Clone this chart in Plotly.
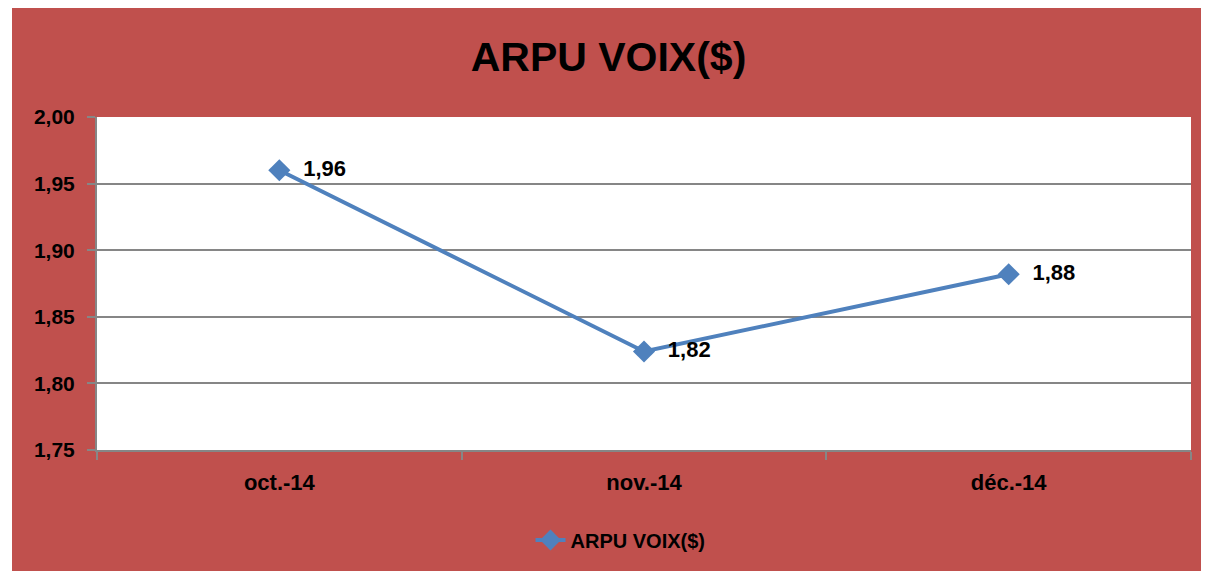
import plotly.graph_objects as go

months = ["oct.-14", "nov.-14", "déc.-14"]
arpu = [1.96, 1.824, 1.882]
series_name = "ARPU VOIX($)"
title_text = "ARPU VOIX($)"
y_ticks = [1.75, 1.80, 1.85, 1.90, 1.95, 2.00]

RED = "#C0504D"
BLUE = "#4F81BD"
GRID = "#868686"
FONT = "Liberation Sans"

W, H = 1201, 563
L, R, T, B = 89, 18, 109, 121
PW = W - L - R

fig = go.Figure()
fig.add_trace(go.Scatter(
    x=months, y=arpu, name=series_name,
    mode="lines+markers+text",
    line=dict(color=BLUE, width=4),
    marker=dict(symbol="diamond", size=17, color=BLUE),
    texttemplate="\u00a0\u00a0%{y:.2f}",
    textposition="middle right",
    textfont=dict(family=FONT, size=22, color="black", weight="bold"),
    cliponaxis=False,
))

fig.update_layout(
    width=W, height=H,
    margin=dict(l=L, r=R, t=T, b=B),
    paper_bgcolor=RED,
    plot_bgcolor="white",
    separators=",.",
    title=dict(text=title_text, x=0.5, xref="container", xanchor="center",
               y=1 - 49 / H, yref="container", yanchor="middle",
               font=dict(family=FONT, size=41, color="black", weight="bold")),
    showlegend=True,
    legend=dict(orientation="h", x=0.51, xanchor="center", xref="container",
                y=31 / H, yref="container", yanchor="middle",
                font=dict(family=FONT, size=20, color="black", weight="bold"),
                bgcolor="rgba(0,0,0,0)"),
    font=dict(family=FONT, color="black"),
    shapes=[
        dict(type="rect", xref="paper", yref="paper", x0=-0.2, x1=(4 - L) / PW,
             y0=-1, y1=2, fillcolor="white", line=dict(width=0), layer="below"),
    ],
)

fig.update_xaxes(
    type="category", range=[-0.5, 2.5],
    tickvals=months, ticktext=months,
    showline=True, linecolor=GRID, linewidth=2,
    ticks="outside", tickson="boundaries", ticklen=8, tickcolor=GRID, tickwidth=2,
    showgrid=False,
    tickfont=dict(family=FONT, size=22, color="black", weight="bold"),
    ticklabelstandoff=12,
)

fig.update_yaxes(
    range=[1.75, 2.00], tickvals=y_ticks,
    ticktext=[f"{v:.2f}".replace(".", ",") for v in y_ticks],
    showline=True, linecolor=GRID, linewidth=2,
    ticks="outside", ticklen=8, tickcolor=GRID, tickwidth=2,
    showgrid=True, gridcolor=GRID, gridwidth=2,
    zeroline=False,
    tickfont=dict(family=FONT, size=21, color="black", weight="bold"),
    ticklabelstandoff=8,
)

fig.write_html("out.html")
